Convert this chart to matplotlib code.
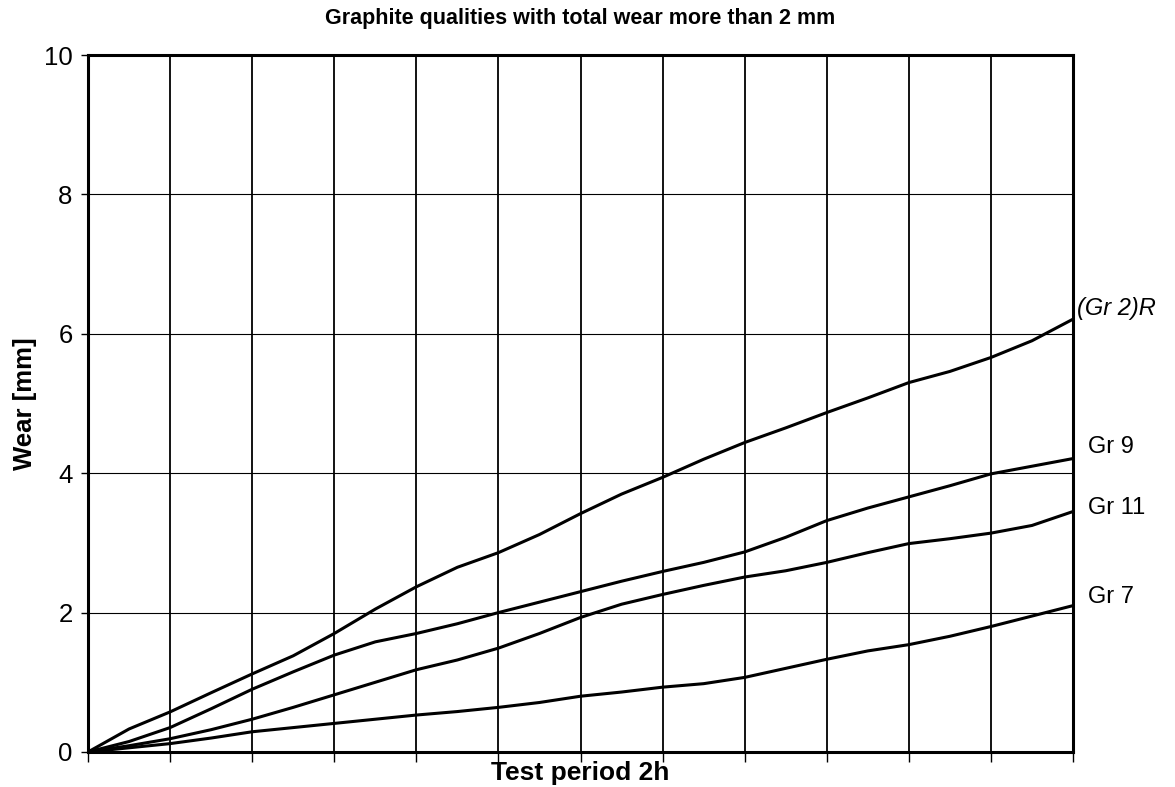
import matplotlib
matplotlib.use("Agg")
import matplotlib.pyplot as plt
import numpy as np

# test period divided into 12 grid steps, values read at half steps
steps = np.arange(0, 12.5, 0.5)

gr2r = [0, 0.33, 0.575, 0.85, 1.12, 1.38, 1.70, 2.05, 2.37, 2.65, 2.86, 3.12,
        3.42, 3.70, 3.94, 4.20, 4.44, 4.65, 4.87, 5.08, 5.30, 5.46, 5.66, 5.90, 6.21]
gr9 = [0, 0.15, 0.35, 0.62, 0.90, 1.15, 1.39, 1.58, 1.70, 1.84, 2.00, 2.15,
       2.30, 2.45, 2.59, 2.72, 2.87, 3.08, 3.32, 3.50, 3.66, 3.82, 3.99, 4.10, 4.21]
gr11 = [0, 0.09, 0.19, 0.32, 0.47, 0.64, 0.82, 1.00, 1.18, 1.32, 1.49, 1.70,
        1.93, 2.12, 2.26, 2.39, 2.51, 2.60, 2.72, 2.86, 2.99, 3.06, 3.14, 3.25, 3.45]
gr7 = [0, 0.06, 0.12, 0.20, 0.29, 0.35, 0.41, 0.47, 0.53, 0.58, 0.64, 0.71,
       0.80, 0.86, 0.93, 0.98, 1.07, 1.20, 1.33, 1.45, 1.54, 1.66, 1.80, 1.95, 2.10]

series = [gr2r, gr9, gr11, gr7]
names = ["(Gr 2)R", "Gr 9", "Gr 11", "Gr 7"]
label_y = [6.36, 4.38, 3.50, 2.22]
label_style = ["italic", "normal", "normal", "normal"]

plt.rcParams["font.family"] = ["Liberation Sans", "DejaVu Sans"]

fig = plt.figure(figsize=(11.75, 7.87), dpi=100)
ax = fig.add_axes([0.0749, 0.0445, 0.8383, 0.8856])

for vals in series:
    ax.plot(steps, vals, color="black", lw=2.2, solid_capstyle="round")

for name, y, st in zip(names, label_y, label_style):
    xoff = 12.05 if st == "italic" else 12.18
    ax.text(xoff, y, name, fontsize=17, style=st, va="center", ha="left",
            clip_on=False)

ax.set_xlim(0, 12)
ax.set_ylim(0, 10)
ax.set_xticks(np.arange(0, 13, 1))
ax.set_xticklabels([])
ax.set_yticks([0, 2, 4, 6, 8, 10])
ax.tick_params(axis="y", labelsize=18.5, length=5, width=1, pad=6)
ax.tick_params(axis="x", length=7, width=1, direction="out")

ax.grid(True, axis="x", color="black", lw=1.3)
ax.grid(True, axis="y", color="black", lw=0.8)
ax.set_axisbelow(True)
for sp in ax.spines.values():
    sp.set_linewidth(2.2)

ax.set_ylabel("Wear [mm]", fontsize=18.5, fontweight="bold", labelpad=5)
ax.set_xlabel("Test period 2h", fontsize=19, fontweight="bold", labelpad=-4)
fig.text(0.494, 0.977, "Graphite qualities with total wear more than 2 mm",
         fontsize=15.5, fontweight="bold", ha="center", va="center")

fig.savefig("out.png", dpi=100)
